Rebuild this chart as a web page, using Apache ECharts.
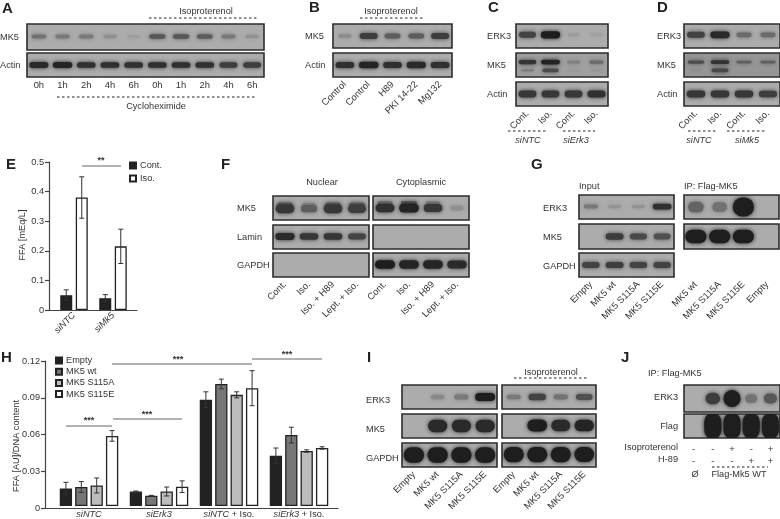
<!DOCTYPE html>
<html><head><meta charset="utf-8">
<style>html,body{margin:0;padding:0;background:#fff}#c{width:780px;height:519px}</style>
<script src="https://cdn.jsdelivr.net/npm/echarts@6/dist/echarts.min.js"></script>
</head><body><div id="c"></div>
<script>
// ---- Panel E values
const eCats = ['siNTC','siMk5'];
const eCont = [0.05,0.04], eContErr = [0.018,0.012];
const eIso = [0.38,0.215], eIsoErr = [0.07,0.058];
// ---- Panel H values
const hCats = ['{i|siNTC}','{i|siErk3}','{i|siNTC} + Iso.','{i|siErk3} + Iso.'];
const hEmpty = [0.0144,0.012,0.088,0.0415], hEmptyErr = [0.0052,0.0004,0.0065,0.0065];
const hWt = [0.0157,0.0085,0.101,0.0587], hWtErr = [0.0045,0.0003,0.004,0.0065];
const hA = [0.017,0.012,0.092,0.0455], hAErr = [0.0062,0.0037,0.0025,0.001];
const hE = [0.058,0.016,0.0975,0.048], hEErr = [0.0044,0.0048,0.0145,0.001];
// ---- Blot lane labels
const aLanes = ['0h','1h','2h','4h','6h','0h','1h','2h','4h','6h'];
const bLanes = ['Control','Control','H89','PKI 14-22','Mg132'];
const cdLanes = ['Cont.','Iso.','Cont.','Iso.'];
const fLanes = ['Cont.','Iso.','Iso. + H89','Lept. + Iso.'];
const gLeftLanes = ['Empty','MK5 wt','MK5 S115A','MK5 S115E'];
const gRightLanes = ['MK5 wt','MK5 S115A','MK5 S115E','Empty'];
const jIso = ['-','-','+','-','+'], jH89 = ['-','-','-','+','+'];
// ---- Blot band strengths per lane
const aMk5 = [.35,.3,.3,.15,.07,.55,.55,.5,.3,.14], aActin = [.9,.95,.85,.85,.85,.85,.85,.85,.75,.75];
const bMk5 = [.18,.75,.5,.5,.75], bActin = [.85,.95,.85,.9,.85];
const cErk3 = [.7,1,.07,.05], cMk5 = [.8,.95,.2,.35], cMk5Low = [.2,.6,.03,.05], cActin = [.8,.8,.8,.85];
const dErk3 = [.7,.9,.4,.4], dMk5 = [.55,.8,.4,.4], dMk5Low = [.05,.6,0,0], dActin = [.8,.8,.8,.75];
const fNucMk5 = [.8,.5,.8,.75], fNucMk5Up = [.45,.2,.45,.45], fNucLamin = [.9,.8,.8,.7], fNucGapdh = [0,0,0,0];
const fCytMk5 = [.85,.95,.8,.15], fCytMk5Up = [.35,.5,.25,0], fCytLamin = [0,0,0,0], fCytGapdh = [1,.95,.95,.9];
const gInErk3 = [.3,.13,.13,.85], gInMk5 = [0,.75,.65,.6], gInGapdh = [.7,.75,.7,.7];
const gIpErk3 = [.45,.35,1.5,0], gIpMk5 = [1.15,1.15,1.15,0];
const iErk3 = [0,.2,.3,1], iMk5 = [0,.9,.9,.9], iGapdh = [1.05,1.05,1.05,1.05];
const iIsoErk3 = [.3,.7,.35,.6], iIsoMk5 = [0,1,.9,.95], iIsoGapdh = [1.05,1.05,1.05,1];
const jErk3 = [0,.75,1.5,.35,.55], jFlag = [0,1.9,1.9,1.9,1.9];

const INK='#333', FONT='"Liberation Sans",Arial,sans-serif';
const grid=[],xAxis=[],yAxis=[],series=[],graphic=[];

function T(x,y,text,o){graphic.push({type:'text',x,y,silent:true,style:Object.assign({text,fill:INK,font:'9.2px '+FONT,align:'left',verticalAlign:'middle'},o||{})});}
function C(x,y,text,o){T(x,y,text,Object.assign({align:'center'},o||{}));}
function R(x,y,text,o){T(x,y,text,Object.assign({align:'right'},o||{}));}
function L(x1,x2,y,dash){graphic.push({type:'line',silent:true,shape:{x1,y1:y,x2,y2:y},style:{stroke:dash?'#222':'#666',lineWidth:1,lineDash:dash?[2.5,2.5]:null}});}
function P(x,y,t){T(x,y,t,{font:'bold 15px '+FONT,fill:'#222'});}

function band(gi,vals,yPos,thick,bg,wk){
  series.push({type:'custom',xAxisIndex:gi,yAxisIndex:gi,silent:true,clip:true,z:3,
    data:vals.map((v,i)=>[i,v]),
    renderItem(params,api){
      const v=api.value(1); if(v<=0) return null;
      const c=api.coord([api.value(0),yPos]);
      const sz=api.size([1,1]);
      const w=2*sz[0]*(.25+.17*Math.min(v,1.15))*(wk||1);
      const h=Math.max(1.2,sz[1]*thick*(.45+.55*v));
      const s=Math.min(v,1);
      const g=Math.round(bg-(bg-30)*Math.pow(s,.85));
      const col=`rgb(${g},${g},${g})`;
      return {type:'rect',shape:{x:c[0]-w/2,y:c[1]-h/2,width:w,height:h,r:Math.min(w,h)/2},style:{fill:col,shadowBlur:4,shadowColor:col}};
    }});
}
// one blot strip: a grid with lanes on a category axis, band strengths via custom series
function blot(x0,x1,y0,y1,lanes,layers,o){
  o=o||{};
  const gi=grid.length, bg=o.bg||172;
  grid.push({left:x0,top:y0,width:x1-x0,height:y1-y0,show:true,backgroundColor:`rgb(${bg},${bg},${bg})`,borderColor:'#2c2c2c',borderWidth:1.6,containLabel:false});
  xAxis.push({type:'category',gridIndex:gi,data:lanes,axisLine:{show:false},axisTick:{show:false},
    axisLabel:{show:!!o.labels,interval:0,color:INK,fontFamily:FONT,fontSize:o.fs||9.4,rotate:o.rotate||0,margin:o.margin||6,lineHeight:o.lh||undefined}});
  yAxis.push({type:'value',gridIndex:gi,min:0,max:1,show:false});
  layers.forEach(l=>band(gi,l[0],l[1],l[2],bg,l[3]));
}

// ---------- A
P(2,9,'A');
T(0,37,'MK5');
T(0,65,'Actin');
blot(27,264,24,50,aLanes,[[aMk5,.52,.24]]);
blot(27,264,53,77,aLanes,[[aActin,.5,.26]],{labels:true,margin:4});
C(206,11,'Isoproterenol'); L(149,258,18,true); L(57,256,97,true); C(156,106,'Cycloheximide');
// ---------- B
P(309,8,'B'); T(305,36,'MK5'); T(305,65,'Actin');
C(391,11,'Isoproterenol'); L(360,425,18,true);
blot(333,452,24,48,bLanes,[[bMk5,.5,.28]]);
blot(333,452,53,77,bLanes,[[bActin,.5,.28]],{labels:true,rotate:45,margin:6});
// ---------- C
P(488,8,'C'); T(487,36,'ERK3'); T(487,65,'MK5'); T(487,94,'Actin');
blot(516,608,24,48,cdLanes,[[cErk3,.55,.3]]);
blot(516,608,53,77,cdLanes,[[cMk5,.62,.2],[cMk5Low,.28,.2]],{bg:160});
blot(516,608,82,106,cdLanes,[[cActin,.5,.32]],{labels:true,rotate:45,margin:6});
L(508,547,131,true); L(563,595,131,true);
C(528,140,'siNTC',{font:'italic 9.2px '+FONT}); C(576,140,'siErk3',{font:'italic 9.2px '+FONT});
// ---------- D
P(657,8,'D'); T(657,36,'ERK3'); T(657,65,'MK5'); T(657,94,'Actin');
blot(684,780,24,48,cdLanes,[[dErk3,.55,.3]]);
blot(684,780,53,77,cdLanes,[[dMk5,.62,.18],[dMk5Low,.28,.2]],{bg:150});
blot(684,780,82,106,cdLanes,[[dActin,.5,.32]],{labels:true,rotate:45,margin:6});
L(688,718,131,true); L(727,766,131,true);
C(699,140,'siNTC',{font:'italic 9.2px '+FONT}); C(747,140,'siMk5',{font:'italic 9.2px '+FONT});
// ---------- F
P(221,165,'F'); C(322,182,'Nuclear'); C(421,182,'Cytoplasmic');
T(237,208,'MK5'); T(237,237,'Lamin'); T(237,265,'GAPDH');
blot(273,369,196,220,fLanes,[[fNucMk5Up,.62,.3],[fNucMk5,.47,.42]]);
blot(273,369,225,249,fLanes,[[fNucLamin,.52,.3]]);
blot(273,369,253,277,fLanes,[[fNucGapdh,.5,.3]],{labels:true,rotate:45,margin:6});
blot(373,469,196,220,fLanes,[[fCytMk5Up,.72,.2],[fCytMk5,.5,.38]]);
blot(373,469,225,249,fLanes,[[fCytLamin,.5,.3]]);
blot(373,469,253,277,fLanes,[[fCytGapdh,.52,.36]],{labels:true,rotate:45,margin:6});
// ---------- G
P(531,165,'G'); T(579,186,'Input'); T(684,186,'IP: Flag-MK5');
T(543,208,'ERK3'); T(543,237,'MK5'); T(543,266,'GAPDH');
blot(579,674,195,219,gLeftLanes,[[gInErk3,.52,.26]]);
blot(579,674,224,249,gLeftLanes,[[gInMk5,.5,.3]]);
blot(579,674,253,277,gLeftLanes,[[gInGapdh,.5,.3]],{labels:true,rotate:45,margin:6});
blot(684,779,195,219,gRightLanes,[[gIpErk3,.5,.62]]);
blot(684,779,224,249,gRightLanes,[[gIpMk5,.5,.5]],{labels:true,rotate:45,margin:34});
// ---------- I
P(367,358,'I'); T(366,400,'ERK3'); T(366,429,'MK5'); T(366,458,'GAPDH');
C(551,372,'Isoproterenol'); L(514,588,378,true);
blot(402,497,385,409,gLeftLanes,[[iErk3,.5,.34]]);
blot(402,497,414,438,gLeftLanes,[[iMk5,.5,.55]]);
blot(402,497,443,467,gLeftLanes,[[iGapdh,.5,.62]],{labels:true,rotate:45,margin:6});
blot(502,596,385,409,gLeftLanes,[[iIsoErk3,.5,.32]]);
blot(502,596,414,438,gLeftLanes,[[iIsoMk5,.52,.5]]);
blot(502,596,443,467,gLeftLanes,[[iIsoGapdh,.52,.62]],{labels:true,rotate:45,margin:6});
// ---------- J
P(621,358,'J'); T(648,373,'IP: Flag-MK5'); R(678,397,'ERK3'); R(678,426,'Flag');
R(678,447,'Isoproterenol'); R(678,459,'H-89');
blot(684,780,385,412,jIso,[[jErk3,.5,.5]]);
blot(684,780,414,438,jIso.map((s,i)=>s+'\n'+jH89[i]),[[jFlag,.5,.72]],{labels:true,margin:5,lh:12});
L(712,768,467,true); C(695,474,'Ø'); C(739,474,'Flag-Mk5 WT');

// ---------- bar charts
function barPanel(o){
  // frame grid: axes and ticks
  const f=grid.length;
  grid.push({left:o.axL,top:o.top,width:o.axR-o.axL,height:o.h});
  xAxis.push({type:'value',gridIndex:f,min:0,max:1,axisLabel:{show:false},axisTick:{show:false},splitLine:{show:false},
    axisLine:{show:true,onZero:false,lineStyle:{color:'#444',width:1.2}}});
  yAxis.push({type:'value',gridIndex:f,min:0,max:o.max,interval:o.iv,splitLine:{show:false},
    axisLine:{show:true,lineStyle:{color:'#444',width:1.2}},axisTick:{show:true,length:4,lineStyle:{color:'#444',width:1.2}},
    axisLabel:{color:INK,fontFamily:FONT,fontSize:9.2,margin:5,formatter:v=>v===0?'0':v.toFixed(o.dec)}});
  // data grid: bars and category labels
  const d=grid.length;
  grid.push({left:o.catL,top:o.top,width:o.catW,height:o.h});
  xAxis.push({type:'category',gridIndex:d,data:o.cats,axisLine:{show:false},axisTick:{show:false},
    axisLabel:Object.assign({interval:0,color:INK,fontFamily:FONT,fontSize:9.2,margin:3},o.lab)});
  yAxis.push({type:'value',gridIndex:d,min:0,max:o.max,show:false});
  const n=o.bars.length, step=o.bw+o.gap;
  o.bars.forEach((b,k)=>{
    series.push({type:'bar',name:b.name,xAxisIndex:d,yAxisIndex:d,data:b.v,barWidth:o.bw,barGap:(o.gap/o.bw*100)+'%',
      itemStyle:{color:b.c,borderColor:'#222',borderWidth:1.3},z:2,silent:true});
    series.push({type:'custom',xAxisIndex:d,yAxisIndex:d,silent:true,z:4,
      data:b.v.map((v,i)=>[i,v,b.e[i]]),
      renderItem(p,api){
        const i=api.value(0),v=api.value(1),e=api.value(2);
        const off=(k-(n-1)/2)*step, hi=api.coord([i,v+e]), lo=api.coord([i,v-e]);
        const x=hi[0]+off, c=o.cap, st={stroke:'#333',lineWidth:1};
        return {type:'group',children:[
          {type:'line',shape:{x1:x,y1:hi[1],x2:x,y2:lo[1]},style:st},
          {type:'line',shape:{x1:x-c,y1:hi[1],x2:x+c,y2:hi[1]},style:st},
          {type:'line',shape:{x1:x-c,y1:lo[1],x2:x+c,y2:lo[1]},style:st}]};
      }});
  });
}
P(6,165,'E');
barPanel({axL:49,axR:137,top:162,h:148,catL:54.5,catW:78,cats:eCats,max:.5,iv:.1,dec:1,bw:12,gap:3.5,cap:2.5,
  lab:{rotate:45,fontStyle:'italic',margin:4},
  bars:[{name:'Cont.',v:eCont,e:eContErr,c:'#222'},{name:'Iso.',v:eIso,e:eIsoErr,c:'#fff'}]});
graphic.push({type:'text',x:22,y:235,rotation:Math.PI/2,silent:true,style:{text:'FFA [mEq/L]',fill:INK,font:'9.2px '+FONT,align:'center',verticalAlign:'middle'}});
L(82,121,166); C(101,161,'**',{font:'bold 9px '+FONT});

P(1,358,'H');
barPanel({axL:45,axR:338,top:361,h:147,catL:54,catW:280,cats:hCats,max:.12,iv:.03,dec:2,bw:12.3,gap:3.1,cap:2.5,
  lab:{formatter:v=>v,rich:{i:{fontStyle:'italic',fontSize:9.2,color:INK,fontFamily:FONT}},margin:4},
  bars:[{name:'Empty',v:hEmpty,e:hEmptyErr,c:'#222'},{name:'MK5 wt',v:hWt,e:hWtErr,c:'#777'},
        {name:'MK5 S115A',v:hA,e:hAErr,c:'#bcbcbc'},{name:'MK5 S115E',v:hE,e:hEErr,c:'#fff'}]});
graphic.push({type:'text',x:16,y:446,rotation:Math.PI/2,silent:true,style:{text:'FFA [AU]/DNA content',fill:INK,font:'9.2px '+FONT,align:'center',verticalAlign:'middle'}});
[[66,112,426,89,421],[113,182,419,147,415],[112,252,364,178,360],[252,322,359,287,355]].forEach(s=>{L(s[0],s[1],s[2]);C(s[3],s[4],'***',{font:'bold 9px '+FONT});});

const legendBase={orient:'vertical',icon:'rect',itemWidth:6,itemHeight:6,selectedMode:false,padding:0,
  textStyle:{color:INK,fontFamily:FONT,fontSize:9.2,padding:[0,0,0,-1]}};
const chart=echarts.init(document.getElementById('c'),null,{renderer:'canvas'});
chart.setOption({animation:false,backgroundColor:'#fff',grid,xAxis,yAxis,series,graphic,
  legend:[
    Object.assign({},legendBase,{left:129,top:161,itemGap:4,data:['Cont.','Iso.']}),
    Object.assign({},legendBase,{left:55,top:356,itemGap:2.2,data:['Empty','MK5 wt','MK5 S115A','MK5 S115E']})
  ]});
</script></body></html>
